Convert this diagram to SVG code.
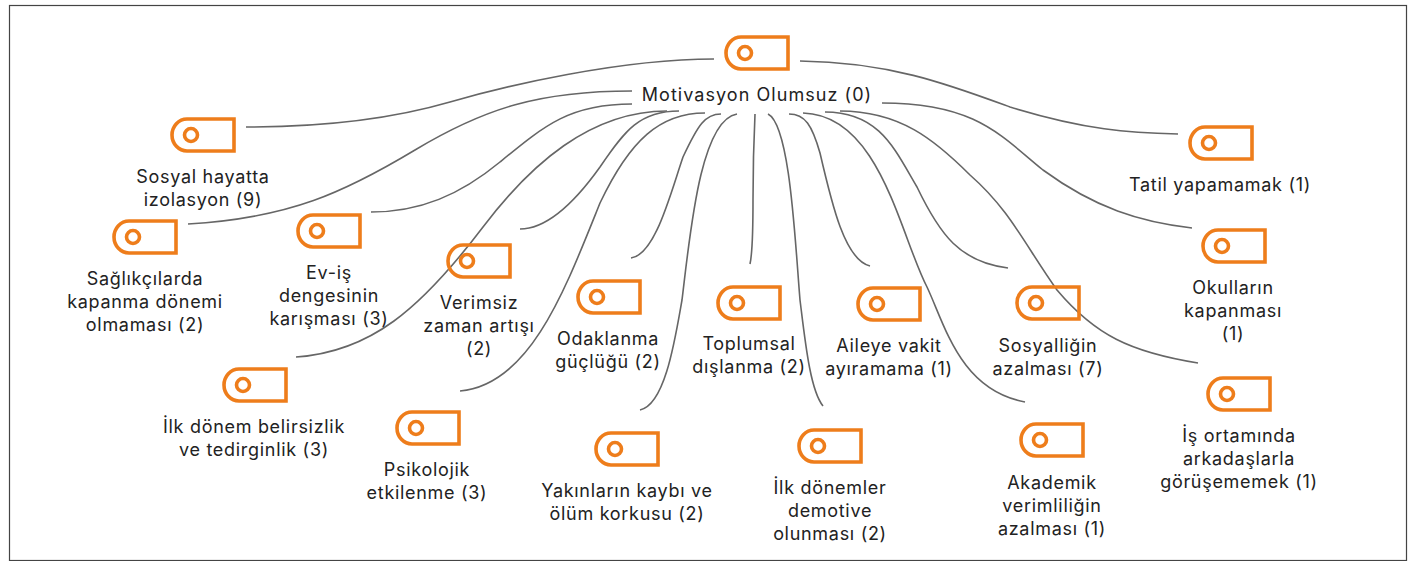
<svg xmlns="http://www.w3.org/2000/svg" width="1410" height="561" viewBox="0 0 1410 561">
<style>
text{font-family:Inter,"Open Sans",sans-serif;font-size:18px;letter-spacing:.7px;fill:#222;text-anchor:middle}
#n0 text{letter-spacing:1.05px}
.ic{fill:none;stroke:#ee7d1b;stroke-width:3.6}
#connectors path{fill:none;stroke:#666;stroke-width:1.6}
</style>
<defs><g id="tag"><path class="ic" d="M14 0H61V32H14A15 16 0 0 1 14 0Z"/><circle class="ic" cx="18" cy="16" r="6.5"/></g></defs>
<rect x="9.5" y="5.5" width="1397" height="555" fill="#fff" stroke="#444" stroke-width="1.2"/>
<g id="connectors">
<path d="M246 127C330 127 395 118 450 102S620 59 714 59"/>
<path d="M188 224C290 218 345 192 415 150S540 91 632 91"/>
<path d="M371 212C420 212 460 195 500 162C545 125 570 104 632 104"/>
<path d="M520 229C550 229 580 195 600 167C625 130 640 111 679 111"/>
<path d="M296 357C370 352 420 310 483 227C530 165 590 111 667 111"/>
<path d="M460 391C530 385 565 290 600 203C630 140 660 113 705 113"/>
<path d="M631 258C655 255 670 195 683 157C698 125 705 114 721 114"/>
<path d="M640 410C665 405 675 340 682 300C690 235 700 120 737 114"/>
<path d="M750 264C752 255 753 240 753 200C753 160 754 135 755 114"/>
<path d="M823 406C810 390 805 340 800 300C795 240 790 125 768 114"/>
<path d="M870 266C845 260 832 205 820 153C812 125 805 114 789 114"/>
<path d="M1025 402C960 390 945 325 927 287C900 235 880 115 803 113"/>
<path d="M1008 268C960 262 940 235 917 187C895 150 880 112 825 112"/>
<path d="M1198 363C1130 352 1095 335 1057 290C1025 245 1010 210 970 175C935 140 900 111 840 111"/>
<path d="M1192 228C1140 222 1095 208 1043 170C1000 135 975 103 882 103"/>
<path d="M1178 134C1130 133 1085 130 1010 107C950 85 890 62 800 61"/>
</g>
<g id="n0"><use href="#tag" x="727" y="37"/><text x="757" y="101">Motivasyon Olumsuz (0)</text></g>
<g id="n1"><use href="#tag" x="173" y="119"/><text y="183"><tspan x="203">Sosyal hayatta</tspan><tspan x="203" dy="23">izolasyon (9)</tspan></text></g>
<g id="n2"><use href="#tag" x="115" y="221"/><text y="285"><tspan x="145">Sağlıkçılarda</tspan><tspan x="145" dy="23">kapanma dönemi</tspan><tspan x="145" dy="23">olmaması (2)</tspan></text></g>
<g id="n3"><use href="#tag" x="299" y="215"/><text y="279"><tspan x="329">Ev-iş</tspan><tspan x="329" dy="23">dengesinin</tspan><tspan x="329" dy="23">karışması (3)</tspan></text></g>
<g id="n4"><use href="#tag" x="449" y="245"/><text y="309"><tspan x="479">Verimsiz</tspan><tspan x="479" dy="23">zaman artışı</tspan><tspan x="479" dy="23">(2)</tspan></text></g>
<g id="n5"><use href="#tag" x="579" y="281"/><text y="345"><tspan x="608">Odaklanma</tspan><tspan x="608" dy="23">güçlüğü (2)</tspan></text></g>
<g id="n6"><use href="#tag" x="719" y="287"/><text y="350"><tspan x="749">Toplumsal</tspan><tspan x="749" dy="23">dışlanma (2)</tspan></text></g>
<g id="n7"><use href="#tag" x="859" y="288"/><text y="352"><tspan x="889">Aileye vakit</tspan><tspan x="889" dy="23">ayıramama (1)</tspan></text></g>
<g id="n8"><use href="#tag" x="1018" y="287"/><text y="352"><tspan x="1048">Sosyalliğin</tspan><tspan x="1048" dy="23">azalması (7)</tspan></text></g>
<g id="n9"><use href="#tag" x="1191" y="127"/><text x="1220" y="191">Tatil yapamamak (1)</text></g>
<g id="n10"><use href="#tag" x="1204" y="230"/><text y="294"><tspan x="1233">Okulların</tspan><tspan x="1233" dy="23">kapanması</tspan><tspan x="1233" dy="23">(1)</tspan></text></g>
<g id="n11"><use href="#tag" x="1209" y="378"/><text y="442"><tspan x="1239">İş ortamında</tspan><tspan x="1239" dy="23">arkadaşlarla</tspan><tspan x="1239" dy="23">görüşememek (1)</tspan></text></g>
<g id="n12"><use href="#tag" x="1022" y="424"/><text y="489"><tspan x="1052">Akademik</tspan><tspan x="1052" dy="23">verimliliğin</tspan><tspan x="1052" dy="23">azalması (1)</tspan></text></g>
<g id="n13"><use href="#tag" x="800" y="430"/><text y="494"><tspan x="830">İlk dönemler</tspan><tspan x="830" dy="23">demotive</tspan><tspan x="830" dy="23">olunması (2)</tspan></text></g>
<g id="n14"><use href="#tag" x="597" y="433"/><text y="497"><tspan x="627">Yakınların kaybı ve</tspan><tspan x="627" dy="23">ölüm korkusu (2)</tspan></text></g>
<g id="n15"><use href="#tag" x="398" y="412"/><text y="476"><tspan x="427">Psikolojik</tspan><tspan x="427" dy="23">etkilenme (3)</tspan></text></g>
<g id="n16"><use href="#tag" x="225" y="369"/><text y="433"><tspan x="254">İlk dönem belirsizlik</tspan><tspan x="254" dy="23">ve tedirginlik (3)</tspan></text></g>
</svg>
